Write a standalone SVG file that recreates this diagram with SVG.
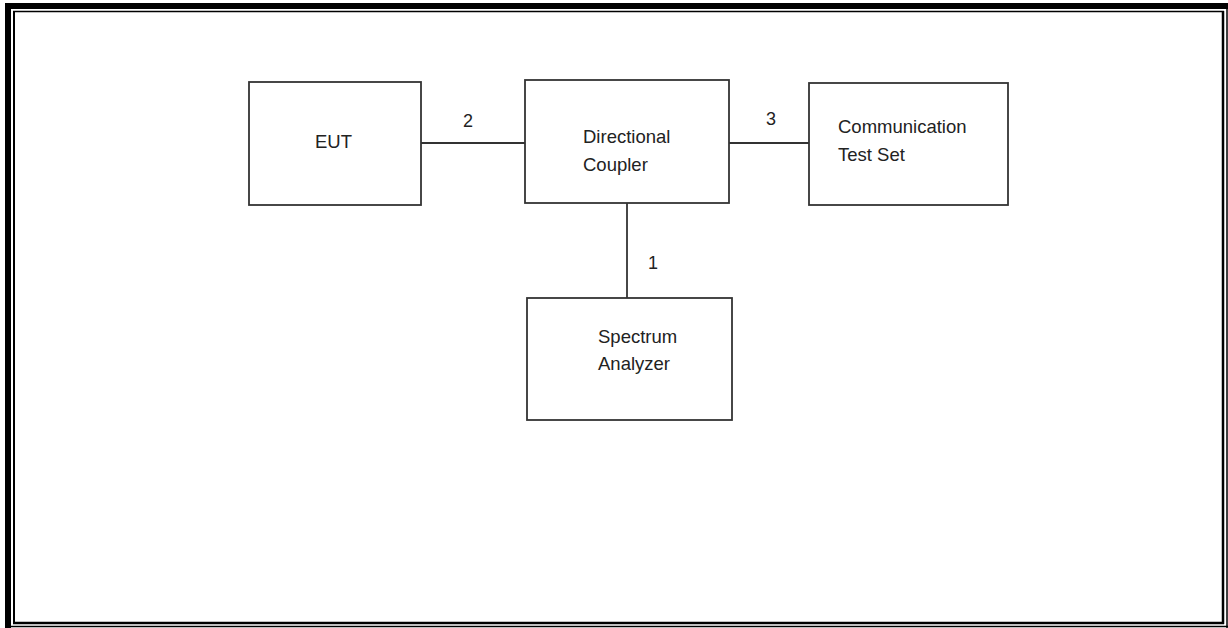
<svg xmlns="http://www.w3.org/2000/svg" width="1228" height="628" viewBox="0 0 1228 628">
<style>
.box{fill:#fff;stroke:#333;stroke-width:1.8}
.wire{stroke:#333;stroke-width:1.8;fill:none}
.t{font-family:"Liberation Sans",Arial,sans-serif;font-size:18.5px;fill:#222}
.n{font-family:"Liberation Sans",Arial,sans-serif;font-size:18px;fill:#222;text-anchor:middle}
.fr{stroke:#000;fill:none}
</style>
<rect width="1228" height="628" fill="#fff"/>
<g id="frame">
<line class="fr" x1="5" y1="6" x2="1228" y2="6" stroke-width="6"/>
<line class="fr" x1="8" y1="3" x2="8" y2="628" stroke-width="6"/>
<line class="fr" x1="11" y1="626.5" x2="1228" y2="626.5" stroke-width="1.5"/>
<line class="fr" x1="1227" y1="9" x2="1227" y2="628" stroke-width="1.5"/>
<line class="fr" x1="13" y1="11.5" x2="1224" y2="11.5" stroke-width="1.5"/>
<line class="fr" x1="14" y1="11" x2="14" y2="624" stroke-width="2"/>
<line class="fr" x1="1223" y1="11" x2="1223" y2="624" stroke-width="2.5"/>
<line class="fr" x1="13" y1="623" x2="1224" y2="623" stroke-width="2.5"/>
</g>
<g id="connectors">
<line class="wire" x1="421" y1="143" x2="525" y2="143"/>
<line class="wire" x1="729" y1="143" x2="809" y2="143"/>
<line class="wire" x1="627" y1="203" x2="627" y2="298"/>
<text class="n" x="468" y="127">2</text>
<text class="n" x="771" y="125">3</text>
<text class="n" x="653" y="269">1</text>
</g>
<g id="eut">
<rect class="box" x="249" y="82" width="172" height="123"/>
<text class="t" x="315" y="148">EUT</text>
</g>
<g id="coupler">
<rect class="box" x="525" y="80" width="204" height="123"/>
<text class="t" x="583" y="143">Directional</text>
<text class="t" x="583" y="171">Coupler</text>
</g>
<g id="testset">
<rect class="box" x="809" y="83" width="199" height="122"/>
<text class="t" x="838" y="133">Communication</text>
<text class="t" x="838" y="161">Test Set</text>
</g>
<g id="analyzer">
<rect class="box" x="527" y="298" width="205" height="122"/>
<text class="t" x="598" y="343">Spectrum</text>
<text class="t" x="598" y="370">Analyzer</text>
</g>
</svg>
